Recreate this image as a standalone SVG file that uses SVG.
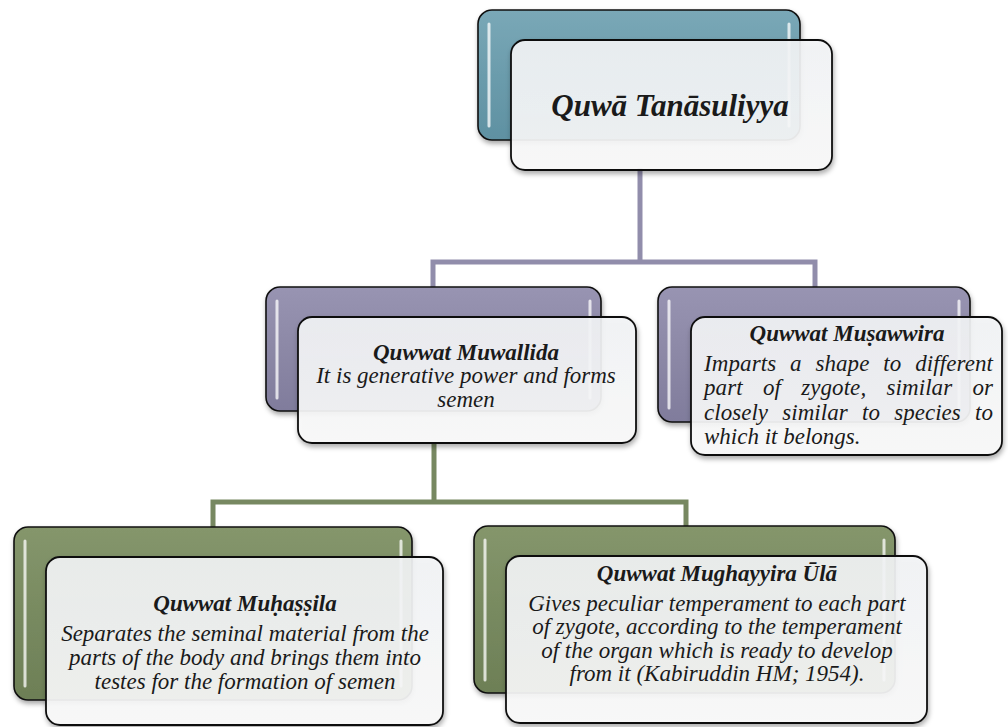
<svg xmlns="http://www.w3.org/2000/svg" width="1008" height="727" viewBox="0 0 1008 727">
<defs>
<linearGradient id="gTeal" x1="0" y1="0" x2="0" y2="1"><stop offset="0" stop-color="#7aa8b7"/><stop offset="0.5" stop-color="#6b9cac"/><stop offset="1" stop-color="#5f91a2"/></linearGradient>
<linearGradient id="gPurple" x1="0" y1="0" x2="0" y2="1"><stop offset="0" stop-color="#9894b2"/><stop offset="0.5" stop-color="#8c88a6"/><stop offset="1" stop-color="#807c9c"/></linearGradient>
<linearGradient id="gGreen" x1="0" y1="0" x2="0" y2="1"><stop offset="0" stop-color="#85966c"/><stop offset="0.5" stop-color="#788a60"/><stop offset="1" stop-color="#6d7f56"/></linearGradient>
<linearGradient id="gFront" x1="0" y1="0" x2="0" y2="1"><stop offset="0" stop-color="#f3f5f7"/><stop offset="1" stop-color="#fbfbfb"/></linearGradient>
<filter id="sh" x="-10%" y="-10%" width="125%" height="130%"><feDropShadow dx="1" dy="3" stdDeviation="2.5" flood-color="#000" flood-opacity="0.35"/></filter>
</defs>
<style>
.back{stroke:#111;stroke-width:1.6;filter:url(#sh)}
.front{fill:url(#gFront);fill-opacity:0.9;stroke:#111;stroke-width:1.8;filter:url(#sh)}
.hl{stroke:#ffffff;stroke-opacity:0.75;stroke-width:3;stroke-linecap:round}
.conn{fill:none;stroke-width:5;stroke-linejoin:miter}
.t{font-family:"Liberation Serif","Times New Roman",serif;font-style:italic;fill:#1a1a1a}
.title{font-weight:bold}
</style>

<g id="connectors">
<path class="conn" stroke="#918dab" d="M640,168 V262 M433,287 V262 H815 V287"/>
<path class="conn" stroke="#778861" d="M434,442 V502 M213,528 V502 H686 V528"/>
</g>

<g id="node-quwa-tanasuliyya">
<rect class="back" x="478" y="10" width="322" height="130" rx="14" fill="url(#gTeal)"/>
<line class="hl" x1="489" y1="24" x2="489" y2="126"/>
<line class="hl" x1="789" y1="24" x2="789" y2="126"/>
<rect class="front" x="511" y="40" width="321" height="130" rx="14"/>
<text class="t title" x="670" y="116" font-size="31" text-anchor="middle">Quwā Tanāsuliyya</text>
</g>

<g id="node-muwallida">
<rect class="back" x="266" y="287" width="335" height="124" rx="14" fill="url(#gPurple)"/>
<line class="hl" x1="277" y1="301" x2="277" y2="398"/>
<line class="hl" x1="590" y1="301" x2="590" y2="398"/>
<rect class="front" x="298" y="317" width="338" height="126" rx="14"/>
<text class="t title" x="466" y="360" font-size="23" text-anchor="middle">Quwwat Muwallida</text>
<text class="t" x="466" y="383" font-size="23" text-anchor="middle">It is generative power and forms</text>
<text class="t" x="466" y="407" font-size="23" text-anchor="middle">semen</text>
</g>

<g id="node-musawwira">
<rect class="back" x="658" y="287" width="312" height="135" rx="14" fill="url(#gPurple)"/>
<line class="hl" x1="669" y1="301" x2="669" y2="408"/>
<line class="hl" x1="959" y1="301" x2="959" y2="408"/>
<rect class="front" x="691" y="317" width="311" height="138" rx="14"/>
<text class="t title" x="847" y="341" font-size="23" text-anchor="middle">Quwwat Muṣawwira</text>
<text class="t" x="704" y="371" font-size="23" word-spacing="8" textLength="289" lengthAdjust="spacing">Imparts a shape to different</text>
<text class="t" x="704" y="395" font-size="23" word-spacing="14.5" textLength="289" lengthAdjust="spacing">part of zygote, similar or</text>
<text class="t" x="704" y="420" font-size="23" word-spacing="8.5" textLength="289" lengthAdjust="spacing">closely similar to species to</text>
<text class="t" x="704" y="444" font-size="23">which it belongs.</text>
</g>

<g id="node-muhassila">
<rect class="back" x="14" y="527" width="398" height="173" rx="14" fill="url(#gGreen)"/>
<line class="hl" x1="25" y1="541" x2="25" y2="686"/>
<line class="hl" x1="401" y1="541" x2="401" y2="686"/>
<rect class="front" x="46" y="557" width="397" height="168" rx="14"/>
<text class="t title" x="245" y="611" font-size="23" text-anchor="middle">Quwwat Muḥaṣṣila</text>
<text class="t" x="245" y="641" font-size="23" text-anchor="middle">Separates the seminal material from the</text>
<text class="t" x="245" y="665" font-size="23" text-anchor="middle">parts of the body and brings them into</text>
<text class="t" x="245" y="689" font-size="23" text-anchor="middle">testes for the formation of semen</text>
</g>

<g id="node-mughayyira">
<rect class="back" x="474" y="526" width="421" height="167" rx="14" fill="url(#gGreen)"/>
<line class="hl" x1="485" y1="540" x2="485" y2="680"/>
<line class="hl" x1="884" y1="540" x2="884" y2="680"/>
<rect class="front" x="506" y="556" width="421" height="167" rx="14"/>
<text class="t title" x="717" y="581" font-size="23" text-anchor="middle">Quwwat Mughayyira Ūlā</text>
<text class="t" x="717" y="611" font-size="23" text-anchor="middle">Gives peculiar temperament to each part</text>
<text class="t" x="717" y="634" font-size="23" text-anchor="middle">of zygote, according to the temperament</text>
<text class="t" x="717" y="658" font-size="23" text-anchor="middle">of the organ which is ready to develop</text>
<text class="t" x="717" y="681" font-size="23" text-anchor="middle">from it (Kabiruddin HM; 1954).</text>
</g>
</svg>
